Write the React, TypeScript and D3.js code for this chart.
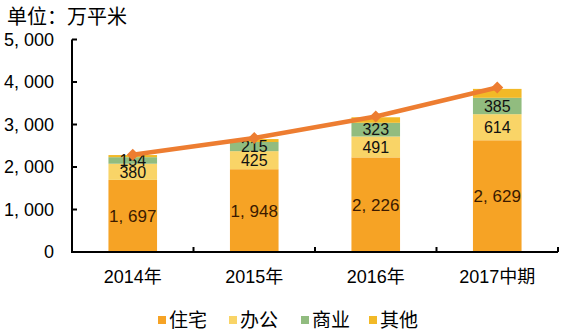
import React from "react";
import * as d3 from "d3";

const categories = ["2014年", "2015年", "2016年", "2017中期"];
const residential = [1697, 1948, 2226, 2629];
const office = [380, 425, 491, 614];
const commercial = [154, 215, 323, 385];
const others = [50, 70, 130, 210];
const totals = [2290, 2680, 3190, 3870];
const yTicks = [0, 1000, 2000, 3000, 4000, 5000];
const seriesNames = ["住宅", "办公", "商业", "其他"];
const colors = ["#F6A325", "#F9D467", "#91BC7F", "#F2B927"];

const W = 565;
const H = 332;
const FONT = "'Liberation Sans', Arial, 'Noto Sans CJK SC', sans-serif";
const CJK = "'Noto Sans CJK SC', sans-serif";

const fmt = (v: number) => d3.format(",")(v).replace(",", ", ");

export default function App() {
  const x = d3
    .scaleBand<string>()
    .domain(categories)
    .range([72, 558])
    .paddingInner(0.6)
    .paddingOuter(0.3);
  const y = d3.scaleLinear().domain([0, 5000]).range([252, 39.5]);

  const seriesData = [residential, office, commercial, others];
  const rows = categories.map((c, i) => ({
    cat: c,
    s0: seriesData[0][i],
    s1: seriesData[1][i],
    s2: seriesData[2][i],
    s3: seriesData[3][i],
  }));
  const stack = d3.stack<any>().keys(["s0", "s1", "s2", "s3"]);
  const stacked = stack(rows);

  const cx = (c: string) => (x(c) as number) + x.bandwidth() / 2;
  const line = d3
    .line<number>()
    .x((_, i) => cx(categories[i]))
    .y((d) => y(d));

  const labelColor = ["#3b1a00", "#111", "#111", "#111"];
  const labelSize = [17, 16, 16, 16];

  const step = x.step();
  const boundaries = d3.range(categories.length + 1).map((i) => 72 + i * step);

  const legendX = [158, 229, 301, 369];

  return (
    <svg
      width={W}
      height={H}
      style={{ position: "absolute", left: 0, top: 0, background: "#fff" }}
    >
      <text x={7} y={24} fontFamily={CJK} fontSize={20} fill="#000">
        单位：万平米
      </text>

      {stacked.map((layer, li) =>
        layer.map((d, i) => (
          <rect
            key={`${li}-${i}`}
            x={x(categories[i])}
            y={y(d[1])}
            width={x.bandwidth()}
            height={y(d[0]) - y(d[1])}
            fill={colors[li]}
          />
        ))
      )}

      {stacked.slice(0, 3).map((layer, li) =>
        layer.map((d, i) => (
          <text
            key={`l${li}-${i}`}
            x={cx(categories[i])}
            y={(y(d[0]) + y(d[1])) / 2}
            dy="0.36em"
            textAnchor="middle"
            fontFamily={FONT}
            fontSize={labelSize[li]}
            fill={labelColor[li]}
          >
            {fmt(seriesData[li][i])}
          </text>
        ))
      )}

      <path
        d={line(totals) || ""}
        fill="none"
        stroke="#ED7D31"
        strokeWidth={4.5}
      />
      {totals.map((v, i) => {
        const px = cx(categories[i]);
        const py = y(v);
        const r = 6;
        return (
          <path
            key={`m${i}`}
            d={`M${px},${py - r}L${px + r},${py}L${px},${py + r}L${px - r},${py}Z`}
            fill="#ED7D31"
          />
        );
      })}

      {/* y axis */}
      <line x1={72} x2={72} y1={39.5} y2={252} stroke="#000" strokeWidth={2} />
      {yTicks.map((t) => (
        <g key={t}>
          <line x1={72} x2={77} y1={y(t)} y2={y(t)} stroke="#000" strokeWidth={2} />
          <text
            x={54}
            y={y(t)}
            dy="0.36em"
            textAnchor="end"
            fontFamily={FONT}
            fontSize={18}
            fill="#000"
          >
            {fmt(t)}
          </text>
        </g>
      ))}

      {/* x axis */}
      <line x1={71} x2={558} y1={252} y2={252} stroke="#000" strokeWidth={2} />
      {boundaries.map((b, i) => (
        <line key={i} x1={b} x2={b} y1={252} y2={247} stroke="#000" strokeWidth={2} />
      ))}
      {categories.map((c) => (
        <text
          key={c}
          x={cx(c)}
          y={277}
          dy="0.36em"
          textAnchor="middle"
          fontFamily={FONT}
          fontSize={18}
          fill="#000"
        >
          {c}
        </text>
      ))}

      {/* legend */}
      {seriesNames.map((n, i) => (
        <g key={n}>
          <rect x={legendX[i]} y={316} width={8} height={8} fill={colors[i]} />
          <text
            x={legendX[i] + 11}
            y={320}
            dy="0.36em"
            fontFamily={CJK}
            fontSize={19}
            fill="#000"
          >
            {n}
          </text>
        </g>
      ))}
    </svg>
  );
}
